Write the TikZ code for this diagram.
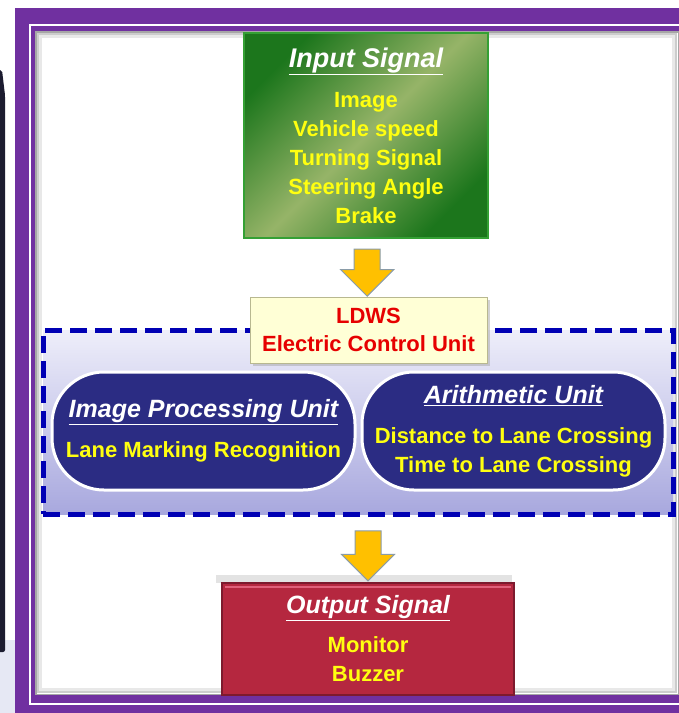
\documentclass[tikz,border=0pt]{standalone}
\usepackage{fontspec}
\setmainfont{Liberation Sans}
\usetikzlibrary{positioning,calc,shapes.arrows,shadows}

\definecolor{framepurple}{HTML}{7030A0}
\definecolor{stripdark}{HTML}{1C1C30}
\definecolor{paleblue}{HTML}{E6E8F4}
\definecolor{ingreen}{HTML}{1C761C}
\definecolor{inlight}{HTML}{96B468}
\definecolor{ingreenedge}{HTML}{34A034}
\definecolor{sigyellow}{HTML}{FFFF10}
\definecolor{ecucream}{HTML}{FFFFD6}
\definecolor{ecuedge}{HTML}{B8B890}
\definecolor{ecured}{HTML}{E60000}
\definecolor{dashblue}{HTML}{0000B4}
\definecolor{regiontop}{HTML}{EEEEFA}
\definecolor{regionbottom}{HTML}{A8A8DE}
\definecolor{pillnavy}{HTML}{2B2C83}
\definecolor{outred}{HTML}{B5273F}
\definecolor{outedge}{HTML}{7D1A2E}
\definecolor{outhigh}{HTML}{E0607A}
\definecolor{arrowyellow}{HTML}{FFC000}
\definecolor{arrowedge}{HTML}{8A9CA8}

% underlined italic heading inside a box
\newcommand{\boxtitle}[2]{{\fontsize{#1}{29}\selectfont\itshape\color{white}\underline{#2}}}

\tikzset{
  every node/.style={font=\fontsize{22}{29}\selectfont\bfseries, inner sep=0pt},
  inbox/.style={minimum width=244pt, minimum height=205pt, draw=ingreenedge, line width=2.5pt,
    top color=ingreen, bottom color=ingreen, middle color=inlight, shading angle=45,
    text=sigyellow, align=center},
  ecubox/.style={minimum width=237pt, minimum height=66pt, fill=ecucream, draw=ecuedge,
    line width=1pt, text=ecured, align=center,
    font=\fontsize{22}{28}\selectfont\bfseries,
    drop shadow={shadow xshift=2.5pt, shadow yshift=-2.5pt, fill=gray!70}},
  unitregion/.style={minimum width=630pt, minimum height=184pt, draw=dashblue, line width=5pt,
    dash pattern=on 17pt off 8pt, top color=regiontop, bottom color=regionbottom},
  unitpill/.style={minimum width=303pt, minimum height=118pt, rounded corners=52pt,
    fill=pillnavy, draw=white, line width=3pt, text=sigyellow, align=center},
  outbox/.style={minimum width=292pt, minimum height=112pt, fill=outred, draw=outedge,
    line width=1.5pt, text=sigyellow, align=center},
  blockarrow/.style={single arrow, draw=arrowedge, fill=arrowyellow, line width=1pt,
    inner xsep=0pt, inner ysep=12.5pt, single arrow head extend=13.5pt,
    single arrow tip angle=90, rotate=-90}
}

\begin{document}
\begin{tikzpicture}[x=1pt,y=-1pt]
  \useasboundingbox (0,0) rectangle (679,713);
  \fill[white] (0,0) rectangle (679,713);

  % left strip and frame
  \fill[paleblue] (0,640) rectangle (15,713);
  \fill[stripdark, rounded corners=2pt] (-3,70) -- (2,70) -- (5,95) -- (5,652) -- (-3,652) -- cycle;
  \fill[framepurple] (15,8) rectangle (700,713);
  \draw[white, line width=2pt] (30,24.5) rectangle (720,704);
  \fill[white] (35,31) rectangle (679,695);
  \draw[gray!70, line width=1.5pt] (35.75,31.75) rectangle (678.25,694.25);
  \draw[gray!40, line width=2pt] (38,34) rectangle (676,692);
  \draw[gray!18, line width=3pt] (40.5,36.5) rectangle (673.5,689.5);

  % boxes
  \node[inbox] (in) at (366,135.5)
    {\boxtitle{27}{Input Signal}\\[11pt]Image\\Vehicle speed\\Turning Signal\\Steering Angle\\Brake};
  \node[unitregion] (ecuregion) at (358,422) {};
  \node[ecubox] (ecu) at (368.5,330) {LDWS\\Electric Control Unit};
  \node[unitpill] (ipu) at (203.5,431)
    {\boxtitle{25}{Image Processing Unit}\\[11pt]Lane Marking Recognition};
  \node[unitpill] (au) at (513.5,431)
    {\boxtitle{25}{Arithmetic Unit}\\[11pt]Distance to Lane Crossing\\Time to Lane Crossing};
  \fill[gray!22] (216,575) rectangle (512,583);
  \node[outbox] (out) at (368,639)
    {\boxtitle{25}{Output Signal}\\[10pt]Monitor\\Buzzer};
  \draw[outhigh, line width=2pt] ($(out.north west)+(4,5)$) -- ($(out.north east)+(-4,5)$);

  % arrows
  \node[blockarrow, minimum height=47pt] (inarrow) at ($(in.south)!0.47!(ecu.north)$) {};
  \node[blockarrow, minimum height=50pt] (outarrow) at ($(ecuregion.south -| out.north)!0.5!(out.north)$) {};
\end{tikzpicture}
\end{document}
